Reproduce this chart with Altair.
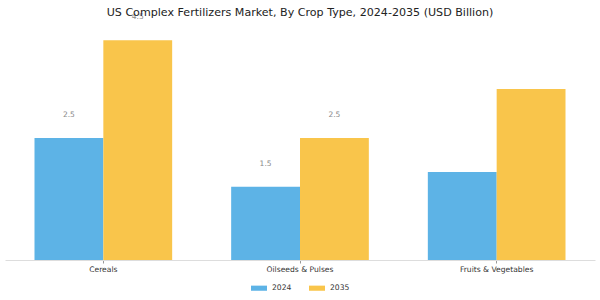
import altair as alt
import pandas as pd

categories = ["Cereals", "Oilseeds & Pulses", "Fruits & Vegetables"]
years = ["2024", "2035"]
values_2024 = [2.5, 1.5, 1.8]
values_2035 = [4.5, 2.5, 3.5]
labels_2024 = ["2.5", "1.5", ""]
labels_2035 = ["4.5", "2.5", ""]

rows = []
for i, c in enumerate(categories):
    rows.append({"category": c, "year": "2024", "value": values_2024[i], "label": labels_2024[i]})
    rows.append({"category": c, "year": "2035", "value": values_2035[i], "label": labels_2035[i]})
df = pd.DataFrame(rows)

x = alt.X("category:N", sort=categories, title=None,
          scale=alt.Scale(paddingInner=0.3, paddingOuter=0.15),
          axis=alt.Axis(labelAngle=0, labelFontSize=7.6, labelColor="#333333",
                        domainColor="#dddddd", tickColor="#999999", tickSize=3,
                        labelPadding=2, labelFont="DejaVu Sans"))
y = alt.Y("value:Q", title=None, scale=alt.Scale(domain=[0, 4.71], nice=False),
          axis=None)
xo = alt.XOffset("year:N", sort=years)
color = alt.Color("year:N", sort=years,
                  scale=alt.Scale(domain=years, range=["#5DB3E6", "#F9C54B"]),
                  legend=alt.Legend(title=None, orient="none", direction="horizontal",
                                    legendX=246, legendY=250,
                                    symbolType="M-1,-0.32L1,-0.32L1,0.32L-1,0.32Z",
                                    symbolSize=256, symbolStrokeWidth=0,
                                    labelFontSize=7.6, labelColor="#333333",
                                    labelOffset=5,
                                    labelFont="DejaVu Sans", columnPadding=17))

bars = alt.Chart(df).mark_bar().encode(x=x, y=y, xOffset=xo, color=color)
text = alt.Chart(df).mark_text(dy=-23, fontSize=7.5, color="#888888", font="DejaVu Sans").encode(
    x=x, y=y, xOffset=xo, text="label:N")

chart = (bars + text).properties(
    width=590, height=230,
    autosize=alt.AutoSizeParams(type="none"),
    padding={"left": 5, "top": 30, "right": 5, "bottom": 40},
    title=alt.TitleParams("US Complex Fertilizers Market, By Crop Type, 2024-2035 (USD Billion)",
                          fontSize=11.1, fontWeight="normal", color="#222222",
                          font="DejaVu Sans", anchor="middle", offset=10, dy=15),
).configure_view(stroke=None)

chart.save("out.html", embed_options={"renderer": "svg", "actions": False})
